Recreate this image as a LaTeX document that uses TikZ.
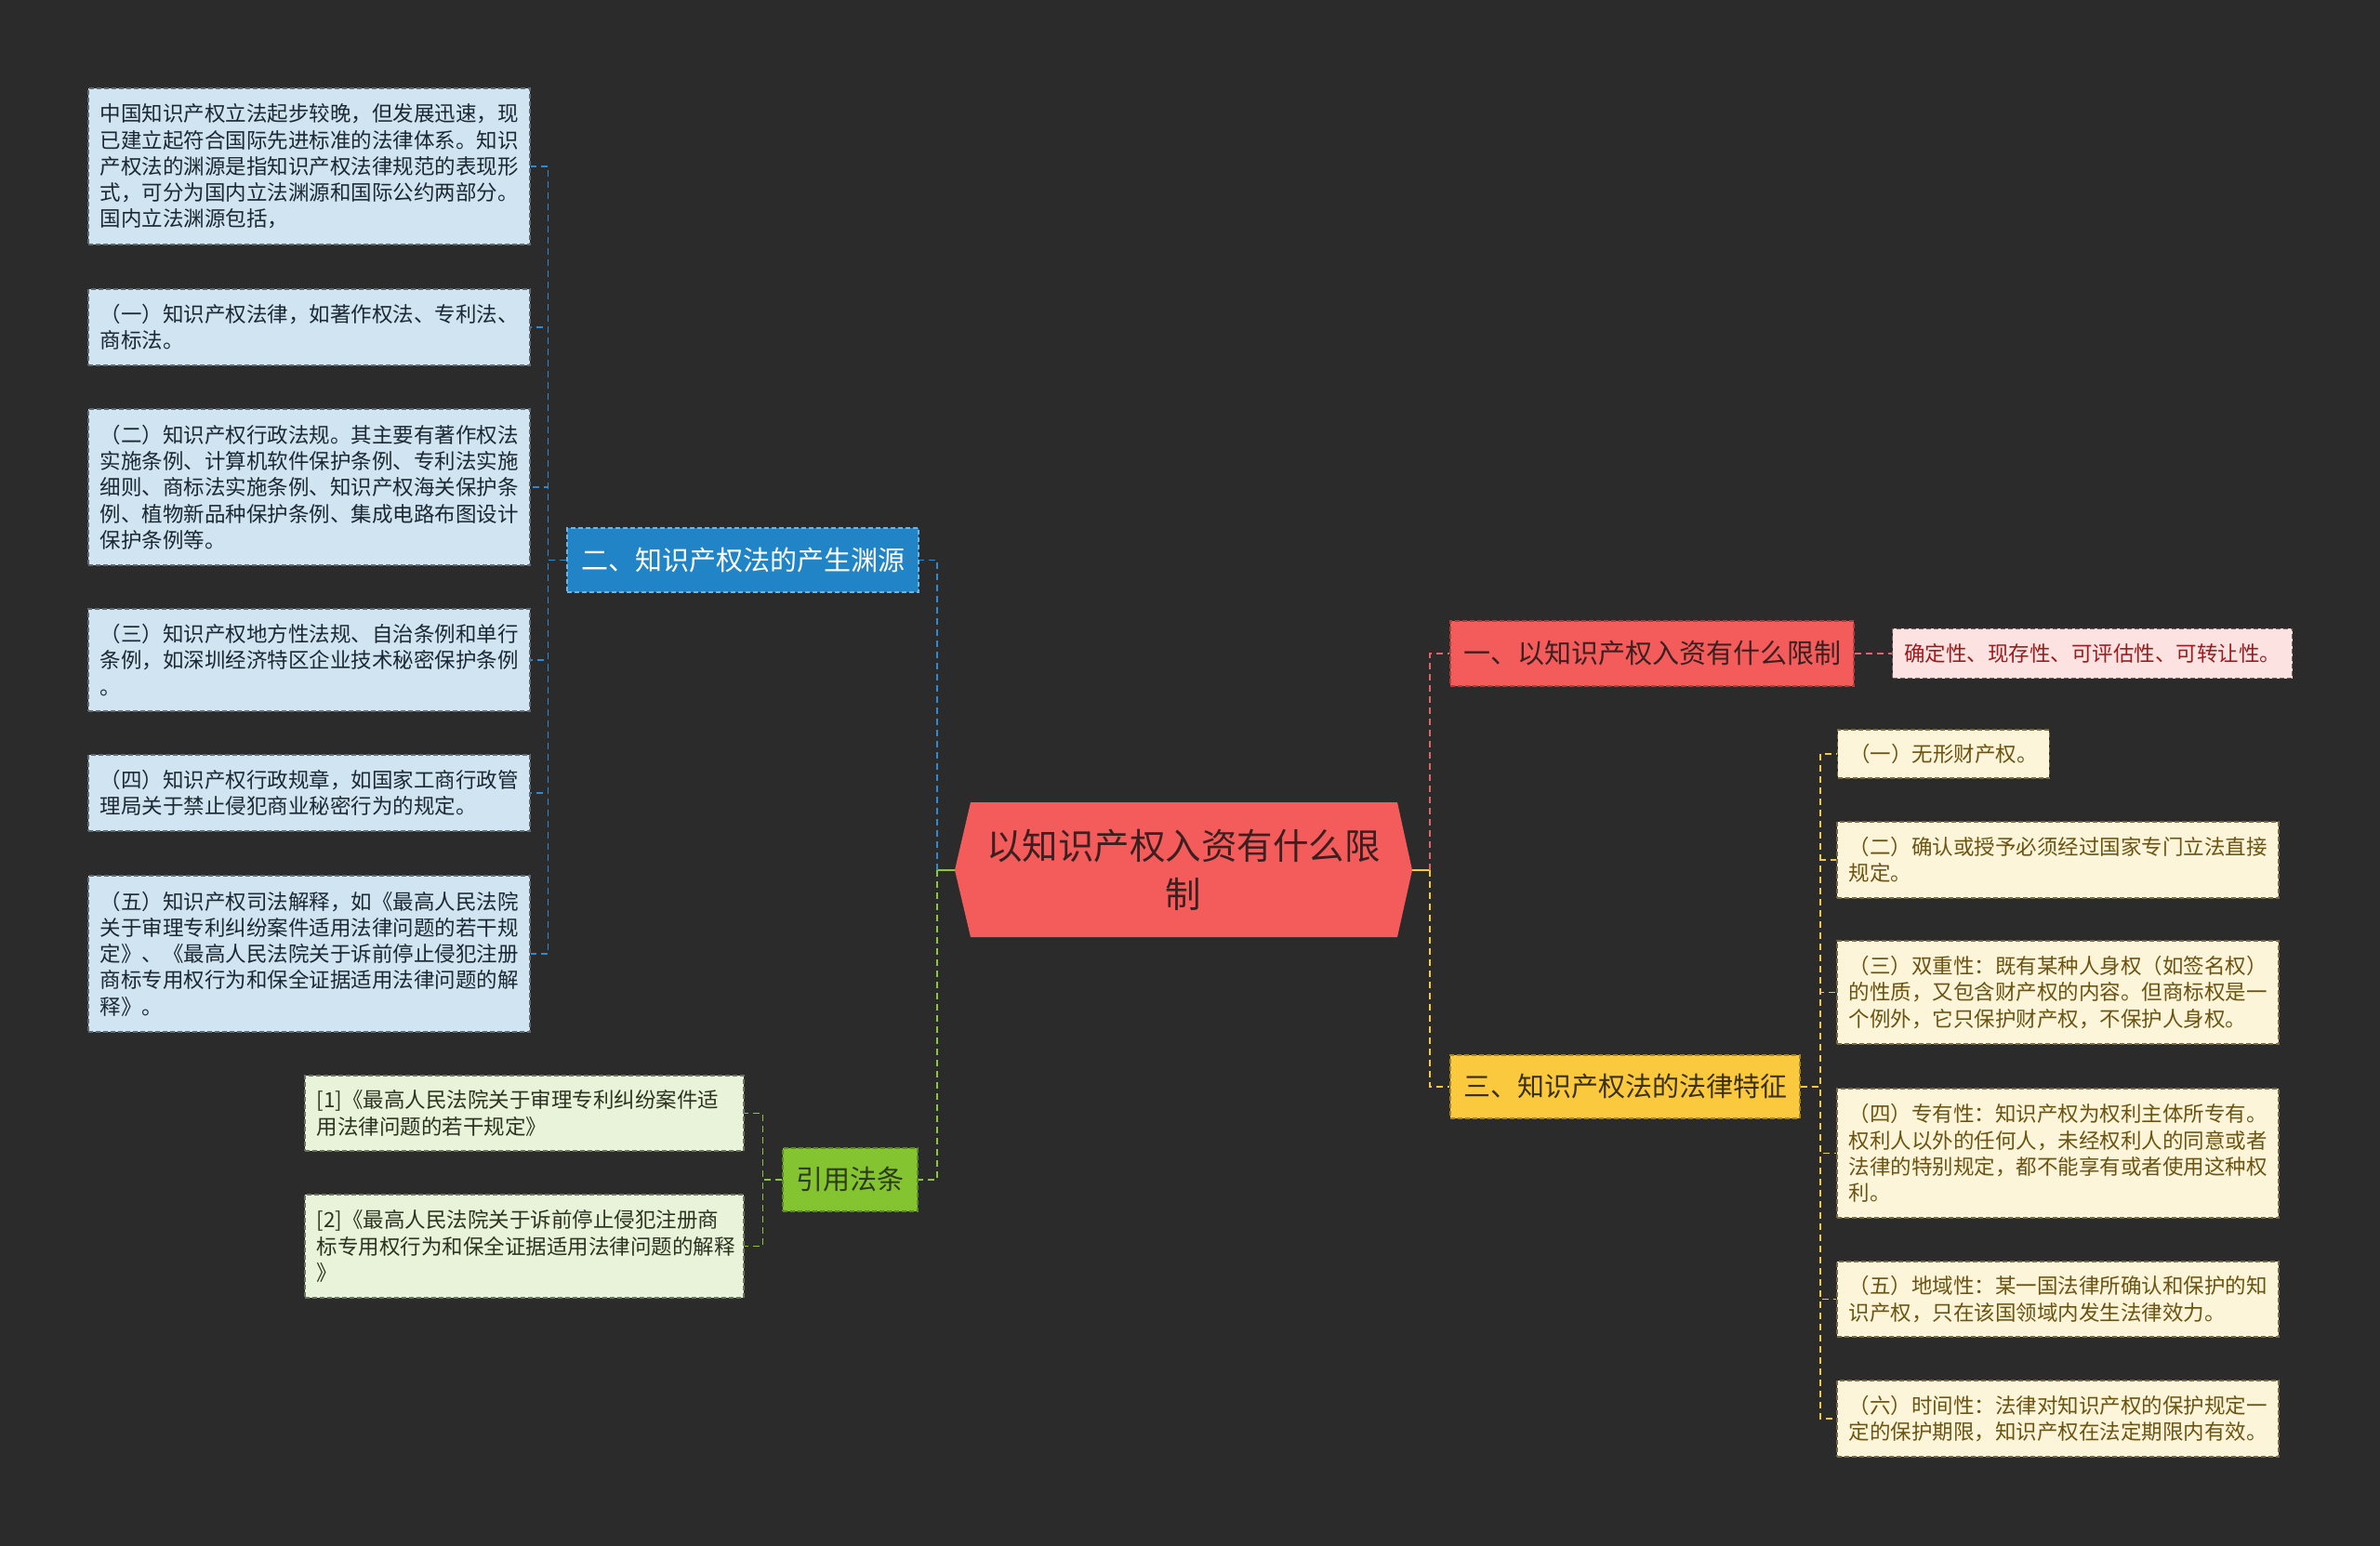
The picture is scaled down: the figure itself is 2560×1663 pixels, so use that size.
\documentclass[tikz,border=0pt]{standalone}
\usepackage{fontspec}
\setmainfont{Noto Sans CJK SC}
\definecolor{bg}{HTML}{2B2B2B}
\definecolor{bleaf}{HTML}{D0E4F2}
\definecolor{bleafd}{HTML}{5E6A74}
\definecolor{bleaft}{HTML}{1C2833}
\definecolor{bbr}{HTML}{2084C6}
\definecolor{bbrd}{HTML}{6FB3E0}
\definecolor{bline}{HTML}{2C8BD3}
\definecolor{rmain}{HTML}{F45B5B}
\definecolor{rmaint}{HTML}{3C2020}
\definecolor{rbrd}{HTML}{B03E3E}
\definecolor{rline}{HTML}{E46464}
\definecolor{rleaf}{HTML}{FDE2E2}
\definecolor{rleaft}{HTML}{9B1C1C}
\definecolor{rleafd}{HTML}{7A5A5A}
\definecolor{ybr}{HTML}{FBC93D}
\definecolor{ybrd}{HTML}{A8841E}
\definecolor{ybrt}{HTML}{3B300D}
\definecolor{yline}{HTML}{F5C842}
\definecolor{yleaf}{HTML}{FDF5DA}
\definecolor{yleaft}{HTML}{6B5412}
\definecolor{yleafd}{HTML}{7A6A40}
\definecolor{gbr}{HTML}{84C431}
\definecolor{gbrd}{HTML}{5A8A20}
\definecolor{gbrt}{HTML}{2D3B12}
\definecolor{gline}{HTML}{8CC63F}
\definecolor{gleaf}{HTML}{E9F3DA}
\definecolor{gleaft}{HTML}{2B3320}
\definecolor{gleafd}{HTML}{6A7560}
\tikzset{
  leafcore/.style={rectangle, dash pattern=on 2.5pt off 1.5pt, line width=0.6pt,
    inner xsep=6.25pt, inner ysep=0pt,
    font=\fontsize{11.25pt}{14.15pt}\selectfont, align=left},
  leafbox/.style={leafcore, text width=225pt},
  blueleaf/.style={leafbox, fill=bleaf, draw=bleafd, text=bleaft},
  greenleaf/.style={leafbox, fill=gleaf, draw=gleafd, text=gleaft, text width=223.5pt},
  yellowleaf/.style={leafbox, fill=yleaf, draw=yleafd, text=yleaft},
  branchbox/.style={rectangle, dash pattern=on 2.5pt off 1.5pt, line width=0.6pt,
    inner sep=0pt, align=center, font=\fontsize{14.5pt}{17pt}\selectfont},
  conn/.style={line width=0.9pt, dash pattern=on 3.5pt off 2.5pt},
}
\begin{document}
\begin{tikzpicture}[x=0.5pt,y=-0.5pt]
\fill[bg] (0,0) rectangle (2560,1663);
\useasboundingbox (0,0) rectangle (2560,1663);

% root
\fill[rmain] (1027,936) -- (1044,863) -- (1503,863) -- (1519,936) -- (1503,1008) -- (1044,1008) -- cycle;
\node[font=\fontsize{19.25pt}{26pt}\selectfont, text=rmaint, align=center, inner sep=0pt] (root) at (1273,936) {以知识产权入资有什么限\\制};
\coordinate (rootw) at (1027,936);
\coordinate (roote) at (1519,936);
\coordinate (jl) at (1008,936);
\coordinate (jr) at (1538,936);

% branches
\node[branchbox, fill=bbr, draw=bbrd, text=white, minimum width=189pt, minimum height=34.5pt] (b2) at (799,602.5) {二、知识产权法的产生渊源};
\node[branchbox, fill=gbr, draw=gbrd, text=gbrt, minimum width=72.5pt, minimum height=34pt] (bref) at (914.5,1269) {引用法条};
\node[branchbox, fill=rmain, draw=rbrd, text=rmaint, minimum width=217pt, minimum height=35pt] (b1) at (1777,703) {一、以知识产权入资有什么限制};
\node[branchbox, fill=ybr, draw=ybrd, text=ybrt, minimum width=188pt, minimum height=34pt] (b3) at (1748,1169) {三、知识产权法的法律特征};

% blue leaves
\node[blueleaf, minimum height=84pt] (l1) at (332.5,179) {中国知识产权立法起步较晚，但发展迅速，现\\已建立起符合国际先进标准的法律体系。知识\\产权法的渊源是指知识产权法律规范的表现形\\式，可分为国内立法渊源和国际公约两部分。\\国内立法渊源包括，};
\node[blueleaf, minimum height=41pt] (l2) at (332.5,352) {（一）知识产权法律，如著作权法、专利法、\\商标法。};
\node[blueleaf, minimum height=84pt] (l3) at (332.5,524) {（二）知识产权行政法规。其主要有著作权法\\实施条例、计算机软件保护条例、专利法实施\\细则、商标法实施条例、知识产权海关保护条\\例、植物新品种保护条例、集成电路布图设计\\保护条例等。};
\node[blueleaf, minimum height=55pt] (l4) at (332.5,710) {（三）知识产权地方性法规、自治条例和单行\\条例，如深圳经济特区企业技术秘密保护条例\\。};
\node[blueleaf, minimum height=41pt] (l5) at (332.5,853) {（四）知识产权行政规章，如国家工商行政管\\理局关于禁止侵犯商业秘密行为的规定。};
\node[blueleaf, minimum height=84pt] (l6) at (332.5,1026) {（五）知识产权司法解释，如《最高人民法院\\关于审理专利纠纷案件适用法律问题的若干规\\定》、《最高人民法院关于诉前停止侵犯注册\\商标专用权行为和保全证据适用法律问题的解\\释》。};

% green leaves
\node[greenleaf, minimum height=40.5pt] (g1) at (564,1197.5) {[1]《最高人民法院关于审理专利纠纷案件适\\用法律问题的若干规定》};
\node[greenleaf, minimum height=55.5pt] (g2) at (564,1340.5) {[2]《最高人民法院关于诉前停止侵犯注册商\\标专用权行为和保全证据适用法律问题的解释\\》};

% red leaf
\node[leafcore, fill=rleaf, draw=rleafd, text=rleaft, minimum height=26.5pt, anchor=west] (r1) at (2035,703) {确定性、现存性、可评估性、可转让性。};

% yellow leaves
\node[leafcore, fill=yleaf, draw=yleafd, text=yleaft, minimum height=26pt, anchor=west] (y1) at (1976,811) {（一）无形财产权。};
\node[yellowleaf, minimum height=41pt] (y2) at (2213.5,925) {（二）确认或授予必须经过国家专门立法直接\\规定。};
\node[yellowleaf, minimum height=55.5pt] (y3) at (2213.5,1067.5) {（三）双重性：既有某种人身权（如签名权）\\的性质，又包含财产权的内容。但商标权是一\\个例外，它只保护财产权，不保护人身权。};
\node[yellowleaf, minimum height=69.5pt] (y4) at (2213.5,1240.5) {（四）专有性：知识产权为权利主体所专有。\\权利人以外的任何人，未经权利人的同意或者\\法律的特别规定，都不能享有或者使用这种权\\利。};
\node[yellowleaf, minimum height=40.5pt] (y5) at (2213.5,1397.5) {（五）地域性：某一国法律所确认和保护的知\\识产权，只在该国领域内发生法律效力。};
\node[yellowleaf, minimum height=41pt] (y6) at (2213.5,1526) {（六）时间性：法律对知识产权的保护规定一\\定的保护期限，知识产权在法定期限内有效。};

% connectors root
\draw[gline, line width=1pt] (rootw) -- (jl);
\draw[ybr, line width=1pt] (roote) -- (jr);
\draw[conn, bline] (jl) |- (b2.east);
\draw[conn, gline] (jl) |- (bref.east);
\draw[conn, rline] (jr) |- (b1.west);
\draw[conn, yline] (jr) |- (b3.west);

% blue branch
\foreach \n in {l1,l2,l3,l4,l5,l6}
  \draw[conn, bline] (b2.west) -- ++(-20,0) |- (\n.east);
% green branch
\foreach \n in {g1,g2}
  \draw[conn, gline] (bref.west) -- ++(-21,0) |- (\n.east);
% red branch
\draw[conn, rline] (b1.east) -- (r1.west);
% yellow branch
\foreach \n in {y1,y2,y3,y4,y5,y6}
  \draw[conn, yline] (b3.east) -- ++(21,0) |- (\n.west);
\end{tikzpicture}
\end{document}
